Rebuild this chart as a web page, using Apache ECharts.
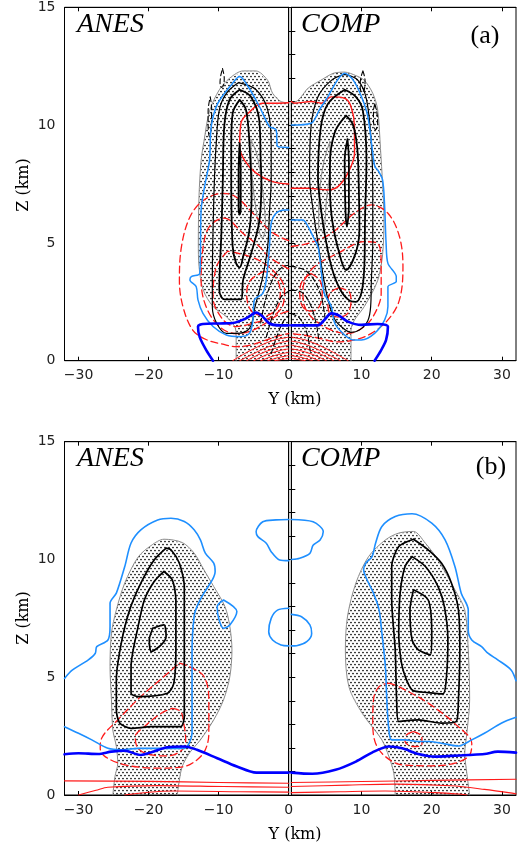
<!DOCTYPE html>
<html><head><meta charset="utf-8">
<script src="https://cdn.jsdelivr.net/npm/echarts@6/dist/echarts.min.js"></script>
<style>html,body{margin:0;padding:0;background:#fff}#c{width:528px;height:848px}</style>
</head><body><div id="c"></div>
<script>
// ---------- tick labels ----------
const xLabelsLeft = [-30, -20, -10, 0];
const xLabelsRight = [10, 20, 30];
const xTicksLeft = [-30, -20, -10];
const xTicksRight = [10, 20, 30];
const yLabels = [0, 5, 10, 15];

// ---------- panel (a) ANES ----------
const aAnesStipple = [[-7.5,0],[-7.5,1.0],[-7.7,1.45],[-8.9,1.87],[-10.8,2.3],[-12.2,3.0],[-12.8,4.0],[-12.9,5.0],[-12.8,7],[-12.5,8.5],[-12.1,9.3],[-11.3,10.6],[-9.9,11.5],[-8.4,12.0],[-6.5,12.3],[-4.7,12.3],[-3.0,11.9],[-2.3,11.35],[-1.1,11.0],[0,10.95]];
const aAnesW1 = [[-7.2,11.8],[-8.9,11.35],[-9.9,10.65],[-10.35,9.2],[-10.6,7.7],[-10.8,5.5],[-10.9,3.5],[-10.9,2.3],[-10.3,1.6],[-8.9,1.16],[-7.5,1.16],[-5.6,1.37],[-4.8,2.3],[-3.7,3.57],[-3.0,4.84],[-2.75,6.26],[-2.5,7.7],[-2.5,9.2],[-3.0,10.65],[-4.65,11.5],[-7.2,11.8]];
const aAnesW2 = [[-7.0,11.5],[-8.45,11.07],[-9.2,9.94],[-9.4,7.7],[-9.6,5.5],[-9.9,3.0],[-9.15,2.6],[-6.8,2.6],[-6.5,3.43],[-5.35,4.56],[-4.17,5.97],[-3.9,7.67],[-4.0,8.5],[-4.2,10.2],[-5.4,11.2],[-7.0,11.5]];
const aAnesW3 = [[-7.0,11.07],[-8.0,10.5],[-8.2,9.2],[-8.2,7.7],[-8.0,4.84],[-7.5,4.13],[-7.0,3.96],[-6.5,4.42],[-5.6,5.55],[-5.3,7.0],[-5.6,9.2],[-6.1,10.65],[-7.0,11.07]];
const aAnesW4 = [[-7.0,9.23],[-6.85,8.0],[-6.85,6.5],[-7.0,6.2],[-7.15,6.5],[-7.15,8.0],[-7.0,9.23]];
const aAnesGray = [[-5.4,9.4],[-4.5,8.7],[-3.7,7.2],[-3.3,5.6],[-3.8,5.2],[-4.6,6.3],[-5.2,7.8],[-5.4,9.4]];
const aAnesDk1 = [[-9.45,12.4],[-9.2,12.0],[-9.3,11.7],[-9.6,11.6],[-9.8,11.8],[-9.7,12.1],[-9.45,12.4]];
const aAnesDk2 = [[-11.2,11.2],[-11.0,10.7],[-11.05,10.0],[-11.3,9.5],[-11.5,9.9],[-11.5,10.6],[-11.2,11.2]];
const aAnesDk3 = [[-4.0,1.6],[-3.3,2.6],[-2.2,3.5],[-1.0,3.95],[0,4.05]];
const aAnesDk4 = [[-3.2,1.0],[-2.2,2.0],[-1.1,2.7],[0,2.95]];
const aAnesDk5 = [[-2.5,0.3],[-1.6,1.1],[-0.7,1.7],[0,1.9]];
const aAnesRedS = [[0,10.95],[-2,10.93],[-3.7,10.93],[-5.8,10.5],[-6.8,10.1],[-7.0,9.1],[-6.3,8.5],[-4.65,7.96],[-2.3,7.6],[0,7.5]];
const aAnesRd1 = [[0,5.1],[-0.9,5.2],[-2.8,5.55],[-4.6,6.1],[-7.5,6.95],[-9.4,7.1],[-12.2,6.8],[-14.1,6.1],[-15.3,4.85],[-15.6,3.4],[-15.1,2.3],[-13.7,1.3],[-11.8,0.9],[-9.4,0.7],[-7.5,0.6],[-5.6,0.65],[-3.5,0.85],[-1.5,1.05],[0,1.15]];
const aAnesRd2 = [[0,3.9],[-1.2,4.1],[-2.8,4.4],[-4.2,4.85],[-6.5,5.4],[-9.2,6.05],[-11.3,5.7],[-12.2,4.85],[-12.5,3.4],[-11.8,2.3],[-9.9,1.45],[-7.5,1.15],[-5.5,1.25],[-3.5,1.55],[-1.5,1.95],[0,2.1]];
const aAnesRd3 = [[-8.7,4.65],[-10.3,4.0],[-10.8,2.7],[-9.4,1.75],[-7.5,1.45],[-5.0,1.6],[-2.5,1.85],[-0.9,2.3],[-0.6,3.0],[-1.5,3.6],[-4.5,4.3],[-8.7,4.65]];
const aAnesRd4 = [[-3.5,3.8],[-5.5,3.4],[-6.0,2.8],[-5.3,2.1],[-3.5,1.9],[-1.7,2.2],[-1.2,2.9],[-1.8,3.5],[-3.5,3.8]];
const aAnesHeat = [
  [[-8,0],[-6,0.35],[-4,0.65],[-2,0.88],[0,1.0]],
  [[-7,0],[-5,0.3],[-3,0.58],[-1,0.78],[0,0.83]],
  [[-6,0],[-4,0.3],[-2,0.52],[0,0.66]],
  [[-5,0],[-3,0.27],[-1,0.45],[0,0.5]],
  [[-4,0],[-2,0.22],[0,0.36]],
  [[-3,0],[-1.5,0.13],[0,0.22]],
  [[-2,0],[0,0.1]]
];
const aAnesBlue = [[0,9.05],[-1.6,9.1],[-1.8,9.8],[-2.75,9.94],[-4.2,10.8],[-5.8,11.64],[-7.0,12.06],[-8.0,11.78],[-10.1,10.93],[-11.06,9.94],[-11.3,8.5],[-12.0,7.4],[-12.5,6.4],[-12.6,4.5],[-12.7,3.7],[-13.9,3.57],[-14.1,3.43],[-13.2,3.14],[-12.95,2.58],[-12.24,2.01],[-10.8,1.45],[-8.9,1.09],[-7.0,1.02],[-5.6,1.16],[-5.1,1.73],[-4.9,2.58],[-3.7,2.86],[-3.2,3.43],[-2.75,4.84],[-2.5,5.83],[-1.8,6.26],[-0.6,6.4],[0,6.4]];
const aAnesBlueD = [[-10.8,0],[-11.77,0.45],[-12.7,1.0],[-12.95,1.45],[-12.24,1.56],[-9.87,1.58],[-8.0,1.6],[-6.07,1.8],[-4.64,2.04],[-3.7,1.87],[-2.75,1.58],[-1.3,1.5],[0,1.5]];

// ---------- panel (a) COMP ----------
const aCompStipple = [[0,10.95],[0.7,11.0],[1.4,11.2],[2.4,11.57],[4.3,11.92],[6,12.2],[7.6,12.25],[9.2,12.1],[10.4,11.9],[11.6,11.35],[12.3,10.65],[12.7,9.0],[13.0,7.5],[13.2,6],[13.0,4.5],[12.3,3.4],[10.4,2.3],[9.0,1.73],[8.5,1.3],[8.5,0]];
const aCompW1 = [[7.6,12.15],[9.5,11.9],[10.7,11.1],[11.4,9.2],[11.6,7.1],[11.6,5.0],[11.4,3.4],[11.3,2.3],[10.9,1.7],[9.7,1.3],[8.5,1.2],[7.3,1.4],[6.2,1.75],[5.3,2.5],[4.6,3.5],[3.8,5.0],[3.1,6.4],[2.6,7.8],[2.8,9.9],[3.8,11.2],[5.7,11.9],[7.6,12.15]];
const aCompW2 = [[7.6,11.5],[9.2,11.2],[10.2,10.6],[10.7,8.5],[10.5,6.0],[10.4,4.0],[10.0,2.9],[9.2,2.5],[8.3,2.55],[7.0,3.0],[5.8,3.9],[4.8,5.3],[4.2,6.5],[3.8,7.8],[4.2,9.9],[5.2,10.9],[7.6,11.5]];
const aCompW3 = [[7.8,10.4],[8.8,10.0],[9.4,9.0],[9.6,7.5],[9.7,5.6],[9.2,4.6],[7.8,3.85],[6.8,4.6],[5.8,6.0],[5.5,7.5],[5.5,8.3],[6.2,9.7],[7.8,10.4]];
const aCompW4 = [[8.0,9.4],[8.2,8.5],[8.2,6.5],[7.9,5.7],[7.7,6.5],[7.6,8.5],[8.0,9.4]];
const aCompGray = [[5.5,9.3],[4.6,8.4],[4.0,7.0],[3.9,5.6],[4.5,5.5],[5.0,6.8],[5.5,8.3],[5.5,9.3]];
const aCompDk1 = [[10.2,12.3],[10.5,11.9],[10.4,11.5],[10.0,11.4],[9.8,11.7],[9.9,12.0],[10.2,12.3]];
const aCompDk2 = [[11.9,10.9],[12.2,10.5],[12.3,10.0],[12.0,9.8],[11.7,10.2],[11.7,10.6],[11.9,10.9]];
const aCompDk3 = [[0,4.0],[1.9,3.85],[3.3,3.4],[4.3,2.7],[4.8,1.8]];
const aCompDk4 = [[0,3.0],[1.5,2.9],[2.7,2.4],[3.6,1.5],[3.9,0.9]];
const aCompDk5 = [[0,2.0],[1.2,1.8],[2.2,1.2],[2.7,0.4]];
const aCompRedS = [[0,11.0],[0.47,10.93],[2.84,11.0],[4.27,10.93],[5.7,11.2],[7.6,11.14],[8.5,10.79],[9.0,9.94],[9.0,8.8],[8.06,7.96],[6.64,7.39],[5.2,7.25],[2.37,7.32],[0,7.32]];
const aCompRd1 = [[0,4.85],[2.4,4.98],[5.7,5.41],[9.0,6.26],[11.4,6.61],[13.76,6.26],[15.4,5.27],[15.9,3.99],[15.4,2.58],[13.76,1.73],[11.4,1.16],[9.0,0.88],[6.5,0.8],[4.0,0.95],[1.5,1.1],[0,1.15]];
const aCompRd2 = [[1.9,3.43],[3.3,4.0],[6.64,4.56],[10.4,5.05],[12.3,4.98],[12.8,4.0],[12.8,2.86],[11.9,2.01],[10.4,1.45],[8.06,1.16],[5.7,1.3],[3.3,1.73],[1.9,2.3],[1.65,3.0],[1.9,3.43]];
const aCompRd3 = [[6.8,3.1],[8.3,2.9],[8.5,2.5],[8.0,2.0],[6.8,1.85],[5.5,2.0],[5.2,2.5],[5.6,2.9],[6.8,3.1]];
const aCompRd4 = [[2.8,3.7],[4.1,3.4],[4.4,2.9],[4.0,2.3],[2.8,2.1],[1.6,2.3],[1.2,2.9],[1.6,3.4],[2.8,3.7]];
const aCompHeat = [
  [[0,1.0],[2,0.88],[4,0.65],[6,0.35],[8.1,0]],
  [[0,0.83],[1,0.78],[3,0.58],[5,0.3],[7,0]],
  [[0,0.66],[2,0.52],[4,0.3],[6,0]],
  [[0,0.5],[1,0.45],[3,0.27],[5,0]],
  [[0,0.36],[2,0.22],[4,0]],
  [[0,0.22],[1.5,0.13],[3,0]],
  [[0,0.1],[2,0]]
];
const aCompBlue = [[0,10.0],[2.84,10.08],[4.0,10.65],[5.2,11.2],[6.6,11.92],[7.6,12.2],[8.8,11.92],[10.0,11.2],[10.9,10.36],[11.6,8.8],[11.9,8.24],[12.3,8.1],[13.0,7.67],[13.3,6.5],[13.5,4.98],[13.76,4.13],[14.95,3.57],[14.95,3.36],[13.76,3.14],[13.76,2.3],[13.3,1.73],[11.86,1.16],[10.0,0.88],[8.8,0.88],[7.6,1.09],[6.2,1.58],[5.7,2.3],[4.7,2.86],[4.3,3.71],[3.8,4.84],[3.1,5.27],[2.4,5.69],[1.65,5.97],[0,5.97]];
const aCompBlueD = [[0,1.5],[3.8,1.5],[4.7,1.73],[5.7,2.01],[6.64,1.94],[8.06,1.66],[10.0,1.52],[12.3,1.56],[13.76,1.45],[13.5,0.88],[12.8,0.45],[11.86,0]];

// ---------- panel (b) ANES ----------
const bAnesStipple = [[-25.1,0],[-24.8,0.78],[-24.4,1.35],[-24.6,2.06],[-25.1,2.76],[-25.3,4.04],[-25.5,5.45],[-25.3,6.87],[-24.6,7.86],[-23.4,9.0],[-21.5,10.1],[-19.6,10.6],[-17.8,10.86],[-15.2,10.72],[-13.5,10.27],[-12.1,9.56],[-10.7,8.85],[-9.1,8.0],[-8.4,7.15],[-8.1,6.16],[-8.4,5.03],[-9.3,4.04],[-10.7,3.19],[-12.6,2.34],[-14.2,1.77],[-15.2,1.21],[-15.6,0.64],[-15.9,0]];
const bAnesW1 = [[-17.5,10.48],[-19.2,9.98],[-21.1,9.0],[-22.7,7.86],[-23.9,6.44],[-24.6,4.9],[-24.6,3.61],[-24.1,3.05],[-22.5,2.83],[-19.6,2.9],[-17.3,2.9],[-15.4,2.9],[-14.9,3.33],[-14.9,6.16],[-14.9,8.85],[-15.6,9.84],[-16.8,10.41],[-17.5,10.48]];
const bAnesW2 = [[-17.8,9.49],[-19.2,9.06],[-20.6,8.28],[-21.5,7.15],[-22.5,5.45],[-22.5,4.32],[-21.5,4.18],[-17.3,4.32],[-16.4,4.74],[-16.1,6.16],[-16.1,8.28],[-16.6,9.13],[-17.8,9.49]];
const bAnesW3 = [[-19.4,7.08],[-17.8,7.22],[-17.5,6.73],[-18.2,6.37],[-19.6,6.09],[-19.9,6.59],[-19.4,7.08]];
const bAnesRd1 = [[-15.6,5.6],[-14.2,5.45],[-12.1,5.03],[-11.4,4.04],[-11.4,2.62],[-11.9,1.92],[-13.1,1.49],[-14.9,1.21],[-18.7,1.14],[-23.4,1.28],[-26.2,1.63],[-26.9,1.98],[-26.7,2.41],[-24.4,3.19],[-21.1,4.18],[-17.8,5.03],[-15.6,5.6]];
const bAnesRd2 = [[-16.6,3.68],[-15.4,3.54],[-14.9,2.9],[-14.7,2.34],[-15.2,1.92],[-17.3,1.66],[-19.6,1.7],[-21.5,1.98],[-21.9,2.48],[-20.6,2.9],[-18.2,3.47],[-16.6,3.68]];
const bAnesBlue = [[-32,4.95],[-30.9,5.3],[-28.6,5.74],[-27.6,6.02],[-27.4,6.3],[-25.8,6.58],[-25.5,7.15],[-25.5,8.14],[-24.6,8.57],[-23.4,9.7],[-22.5,10.7],[-21.1,11.26],[-18.7,11.68],[-16.8,11.75],[-14.9,11.61],[-13.5,11.26],[-12.6,10.83],[-11.9,10.27],[-10.7,9.84],[-10.5,9.49],[-10.9,9.13],[-12.1,8.57],[-13.1,8.0],[-13.5,7.58],[-13.8,6.16],[-13.8,4.04],[-13.8,2.62],[-14.2,2.2],[-14.9,1.98],[-19.2,1.98],[-21.5,1.98],[-23.9,1.92],[-25.8,1.98],[-28.1,2.34],[-30,2.62],[-32,2.9]];
const bAnesBlue2 = [[-9.3,8.28],[-7.4,7.79],[-8.4,7.22],[-9.3,7.08],[-10.0,7.5],[-10.2,8.0],[-9.3,8.28]];
const bAnesBlue3 = [[0,11.7],[-1.8,11.68],[-3.7,11.6],[-4.65,11.18],[-4.4,10.97],[-3.2,10.69],[-2.5,10.33],[-1.3,9.98],[0,9.95]];
const bAnesBlue4 = [[0,7.93],[-1.6,7.85],[-2.5,7.5],[-2.85,6.93],[-2.3,6.58],[-1.1,6.37],[0,6.33]];
const bAnesBlueD = [[-32,1.73],[-30,1.77],[-27.2,1.74],[-25.3,1.84],[-23.4,1.88],[-21.1,1.7],[-19.6,1.81],[-17.3,2.03],[-14.9,2.06],[-13.1,1.92],[-10.2,1.56],[-7.4,1.21],[-4.6,0.95],[0,0.95]];
const bAnesRed1 = [[-32,0.6],[-20,0.58],[-10,0.53],[0,0.5]];
const bAnesRed2 = [[-30,0],[-27.5,0.2],[-25.8,0.33],[-18.7,0.4],[-9.3,0.36],[0,0.33]];
const bAnesRed3 = [[-23.4,0],[-20,0.12],[-16.4,0.17],[-6.9,0.14],[0,0.12]];

// ---------- panel (b) COMP ----------
const bCompStipple = [[14.8,0],[14.6,0.92],[13.9,1.63],[12.9,2.34],[10.1,3.47],[8.2,4.6],[7.7,6.16],[8.0,7.58],[9.2,9.0],[11.0,10.12],[13.4,10.83],[15.3,11.12],[17.4,11.19],[19.1,10.69],[20.9,9.98],[23.3,8.71],[24.7,7.86],[25.2,6.16],[25.4,4.04],[25.0,2.62],[24.7,1.77],[25.0,0.92],[25.4,0]];
const bCompW1 = [[17.4,10.86],[15.3,10.55],[14.3,9.7],[14.3,8.28],[14.8,6.16],[15.0,4.04],[15.3,3.12],[18.1,3.19],[21.4,3.05],[23.5,3.12],[23.8,4.04],[24.0,6.16],[23.8,7.86],[22.8,9.0],[21.4,9.84],[19.5,10.41],[17.4,10.86]];
const bCompW2 = [[17.2,10.12],[16.2,9.7],[15.5,8.57],[15.3,6.87],[15.8,5.45],[17.2,4.46],[19.5,4.35],[21.6,4.29],[22.1,5.03],[22.3,6.59],[21.8,8.0],[20.9,8.85],[19.1,9.7],[17.2,10.12]];
const bCompW3 = [[17.4,8.71],[19.5,8.28],[20.0,6.87],[19.8,5.95],[18.1,6.16],[17.2,6.59],[16.9,7.86],[17.4,8.71]];
const bCompRd1 = [[13.9,4.75],[15.3,4.6],[19.5,3.9],[23.8,2.9],[25.7,2.2],[25.4,1.7],[23.3,1.35],[20.0,1.24],[15.8,1.28],[13.4,1.63],[12.0,2.2],[11.6,3.05],[11.7,4.04],[12.5,4.6],[13.9,4.75]];
const bCompRd2 = [[17.4,2.69],[18.6,2.48],[18.6,2.13],[17.4,2.06],[16.2,2.27],[16.4,2.55],[17.4,2.69]];
const bCompBlue = [[32,4.85],[31.3,5.31],[29.4,5.74],[28.0,6.02],[27.1,6.3],[25.7,6.58],[25.2,7.01],[25.2,7.86],[24.2,8.57],[23.3,9.7],[21.9,10.83],[20.0,11.54],[17.2,11.94],[14.8,11.82],[12.9,11.4],[12.0,10.69],[11.5,10.12],[10.6,9.84],[10.3,9.56],[10.8,9.13],[11.7,8.57],[12.5,7.86],[12.9,6.87],[13.4,5.45],[13.6,4.04],[13.9,2.76],[14.3,2.34],[16.2,2.34],[18.1,2.27],[19.5,2.27],[21.4,2.2],[23.8,2.08],[25.7,2.34],[27.5,2.62],[29.9,3.05],[32,3.3]];
const bCompBlue3 = [[0,11.7],[3.1,11.6],[4.55,11.18],[4.1,10.83],[3.1,10.6],[2.65,10.26],[1.2,10.05],[0,10.0]];
const bCompBlue4 = [[0,7.67],[1.46,7.57],[2.65,7.22],[2.9,6.86],[2.2,6.51],[0.75,6.34],[0,6.33]];
const bCompBlueD = [[0,0.95],[3.0,0.9],[6.3,1.07],[9.2,1.42],[11.5,1.8],[13.9,2.06],[15.8,1.98],[18.1,1.74],[20.5,1.63],[22.8,1.66],[25.2,1.7],[27.5,1.74],[29.4,1.84],[32,1.8]];
const bCompRed1 = [[0,0.53],[10,0.57],[20,0.62],[32,0.67]];
const bCompRed2 = [[0,0.36],[8,0.42],[14.8,0.46],[22.8,0.39],[27.5,0.24],[31.7,0.07],[32,0.05]];
const bCompRed3 = [[0,0.1],[7,0.14],[13.4,0.17],[20.5,0.1],[23.8,0.04],[25,0]];

// ---------- styling / building ----------
const C_BLACK = '#000', C_RED = '#ff1a1a', C_LB = '#1e8fff', C_DB = '#0000ff', C_GRAY = '#8a8a8a';
const DASH_R = [7, 4], DASH_K = [5, 3];

const cv = document.createElement('canvas');
cv.width = 4; cv.height = 6;
const cx = cv.getContext('2d');
cx.fillStyle = '#000';
cx.beginPath(); cx.arc(1, 1.5, 0.85, 0, Math.PI * 2); cx.fill();
cx.beginPath(); cx.arc(3, 4.5, 0.85, 0, Math.PI * 2); cx.fill();
const dots = { image: cv, repeat: 'repeat' };

const series = [];
function line(g, data, c, w, t, z, sm) {
  series.push({
    type: 'line', xAxisIndex: g, yAxisIndex: g, data: data, showSymbol: false, symbol: 'none',
    smooth: sm === undefined ? 0.35 : sm, silent: true, animation: false, z: z || 3, clip: true,
    lineStyle: { color: c, width: w, type: t || 'solid', cap: 'round', join: 'round' }
  });
}
function stipple(g, outline, corners) {
  const poly = outline.concat(corners);
  series.push({
    type: 'custom', xAxisIndex: g, yAxisIndex: g, coordinateSystem: 'cartesian2d',
    data: [poly[0]], silent: true, animation: false, z: 1, clip: true,
    renderItem: function (params, api) {
      return { type: 'polygon', shape: { points: poly.map(p => api.coord(p)) }, style: { fill: dots, stroke: null } };
    }
  });
  line(g, outline, C_GRAY, 1, 'solid', 2, 0.3);
}

// panel a ANES (grid 0)
stipple(0, aAnesStipple, [[0, 0]]);
line(0, aAnesGray, C_GRAY, 1, 'solid', 2);
aAnesHeat.forEach(h => line(0, h, C_RED, 1, 'solid', 3, 0.3));
[aAnesRd1, aAnesRd2, aAnesRd3, aAnesRd4].forEach(d => line(0, d, C_RED, 1.3, DASH_R, 3));
line(0, aAnesRedS, C_RED, 1.4, 'solid', 3);
line(0, aAnesW1, C_BLACK, 1.2, 'solid', 4);
[aAnesW2, aAnesW3, aAnesW4].forEach(d => line(0, d, C_BLACK, 1.8, 'solid', 4));
[aAnesDk1, aAnesDk2, aAnesDk3, aAnesDk4, aAnesDk5].forEach(d => line(0, d, C_BLACK, 1.1, DASH_K, 4));
line(0, aAnesBlue, C_LB, 1.5, 'solid', 5, 0.3);
line(0, aAnesBlueD, C_DB, 2.6, 'solid', 6, 0.3);

// panel a COMP (grid 1)
stipple(1, aCompStipple, [[0, 0]]);
line(1, aCompGray, C_GRAY, 1, 'solid', 2);
aCompHeat.forEach(h => line(1, h, C_RED, 1, 'solid', 3, 0.3));
[aCompRd1, aCompRd2, aCompRd3, aCompRd4].forEach(d => line(1, d, C_RED, 1.3, DASH_R, 3));
line(1, aCompRedS, C_RED, 1.4, 'solid', 3);
line(1, aCompW1, C_BLACK, 1.2, 'solid', 4);
[aCompW2, aCompW3, aCompW4].forEach(d => line(1, d, C_BLACK, 1.8, 'solid', 4));
[aCompDk1, aCompDk2, aCompDk3, aCompDk4, aCompDk5].forEach(d => line(1, d, C_BLACK, 1.1, DASH_K, 4));
line(1, aCompBlue, C_LB, 1.5, 'solid', 5, 0.3);
line(1, aCompBlueD, C_DB, 2.6, 'solid', 6, 0.3);

// panel b ANES (grid 2)
stipple(2, bAnesStipple, []);
[bAnesRed1, bAnesRed2, bAnesRed3].forEach(d => line(2, d, C_RED, 1.1, 'solid', 3, 0.3));
[bAnesRd1, bAnesRd2].forEach(d => line(2, d, C_RED, 1.3, DASH_R, 3));
[bAnesW1, bAnesW2, bAnesW3].forEach(d => line(2, d, C_BLACK, 1.7, 'solid', 4, 0.25));
[bAnesBlue, bAnesBlue2, bAnesBlue3, bAnesBlue4].forEach(d => line(2, d, C_LB, 1.6, 'solid', 5, 0.3));
line(2, bAnesBlueD, C_DB, 2.6, 'solid', 6, 0.3);

// panel b COMP (grid 3)
stipple(3, bCompStipple, []);
[bCompRed1, bCompRed2, bCompRed3].forEach(d => line(3, d, C_RED, 1.1, 'solid', 3, 0.3));
[bCompRd1, bCompRd2].forEach(d => line(3, d, C_RED, 1.3, DASH_R, 3));
[bCompW1, bCompW2, bCompW3].forEach(d => line(3, d, C_BLACK, 1.7, 'solid', 4, 0.25));
[bCompBlue, bCompBlue3, bCompBlue4].forEach(d => line(3, d, C_LB, 1.6, 'solid', 5, 0.3));
line(3, bCompBlueD, C_DB, 2.6, 'solid', 6, 0.3);

// ---------- axes ----------
const gridPos = [
  { left: 64.5, top: 7.3, width: 224.2, height: 353.4 },
  { left: 291.3, top: 7.3, width: 224.7, height: 353.4 },
  { left: 64.5, top: 441.7, width: 224.2, height: 353.3 },
  { left: 291.3, top: 441.7, width: 224.7, height: 353.3 }
];
const grids = gridPos.map(p => Object.assign({ show: true, borderColor: '#000', borderWidth: 1, backgroundColor: 'transparent', containLabel: false }, p));
const minus = v => (v < 0 ? '\u2212' + Math.abs(v) : String(v));
const labelFont = { fontFamily: 'DejaVu Sans', fontSize: 14, color: '#222' };
const xAxes = [], yAxes = [];
for (let g = 0; g < 4; g++) {
  const isLeft = g % 2 === 0;
  xAxes.push({
    type: 'value', gridIndex: g, min: isLeft ? -32 : 0, max: isLeft ? 0 : 32,
    axisLine: { show: true, lineStyle: { color: '#000', width: 1 } },
    axisTick: { show: true, inside: true, length: 4, customValues: isLeft ? xTicksLeft : xTicksRight, lineStyle: { color: '#000' } },
    axisLabel: Object.assign({ show: true, margin: 8, customValues: isLeft ? xLabelsLeft : xLabelsRight, formatter: minus, showMaxLabel: true, showMinLabel: true }, labelFont),
    splitLine: { show: false }
  });
  yAxes.push({
    type: 'value', gridIndex: g, min: 0, max: 15, interval: 5,
    axisLine: { show: true, lineStyle: { color: '#000', width: 1 } },
    axisTick: { show: true, inside: true, length: 4, lineStyle: { color: '#000' } },
    minorTick: { show: true, splitNumber: 5, length: 4, lineStyle: { color: '#000' } },
    axisLabel: Object.assign({ show: isLeft, margin: 9, customValues: yLabels, showMaxLabel: true, showMinLabel: true }, labelFont),
    splitLine: { show: false }, minorSplitLine: { show: false }
  });
}
for (let g = 0; g < 4; g++) {
  const isLeft = g % 2 === 0;
  xAxes.push({
    type: 'value', gridIndex: g, position: 'top', min: isLeft ? -32 : 0, max: isLeft ? 0 : 32,
    axisLine: { show: true, lineStyle: { color: '#000', width: 1 } },
    axisTick: { show: true, inside: true, length: 4, customValues: isLeft ? xTicksLeft : xTicksRight, lineStyle: { color: '#000' } },
    axisLabel: { show: false }, splitLine: { show: false }
  });
}

function txt(x, y, text, font, align, rot) {
  return { type: 'text', x: x, y: y, rotation: rot || 0, silent: true, z: 100,
    style: { text: text, font: font, fill: '#000', align: align || 'left', verticalAlign: 'middle', textAlign: align || 'left', textVerticalAlign: 'middle' } };
}
const tagFont = 'italic 28px "Liberation Serif"';
const nameFont = '16px "DejaVu Serif"';
const graphic = [
  txt(77, 25, 'ANES', tagFont), txt(301, 25, 'COMP', tagFont), txt(485, 36, '(a)', '26px "Liberation Serif"', 'center'),
  txt(77, 459, 'ANES', tagFont), txt(301, 459, 'COMP', tagFont), txt(491, 467, '(b)', '26px "Liberation Serif"', 'center'),
  txt(295, 400, 'Y (km)', nameFont, 'center'), txt(295, 835, 'Y (km)', nameFont, 'center'),
  txt(24, 185, 'Z (km)', nameFont, 'center', Math.PI / 2), txt(24, 618, 'Z (km)', nameFont, 'center', Math.PI / 2)
];

const chart = echarts.init(document.getElementById('c'), null, { renderer: 'canvas', width: 528, height: 848 });
chart.setOption({
  animation: false, backgroundColor: '#fff',
  grid: grids, xAxis: xAxes, yAxis: yAxes, series: series, graphic: graphic
});
</script></body></html>
